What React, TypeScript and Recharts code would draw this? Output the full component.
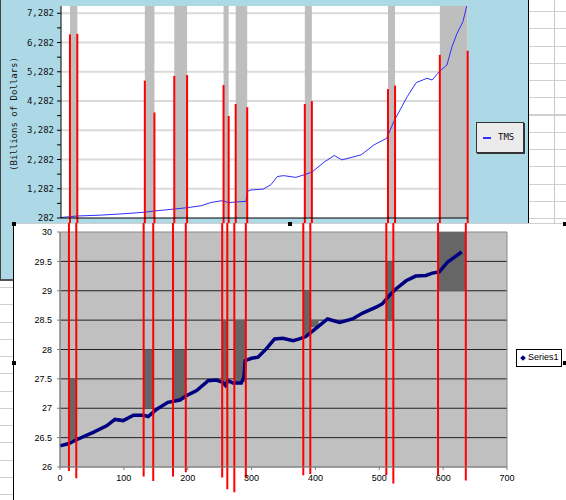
import type { FC } from "react"
import { LineChart, Line, XAxis, YAxis, CartesianGrid, ReferenceArea, ReferenceLine } from "recharts"

// month index (x) and TMS level in billions
const tmsMonth = [0, 25, 62, 100, 131, 145, 178, 197, 219, 234, 250, 255, 262, 273, 289, 291, 297, 316, 328, 338, 348, 367, 380, 392, 411, 427, 439, 469, 489, 509, 520, 541, 555, 572, 580, 591, 603, 611, 619, 628, 634]
const tmsValue = [300, 350, 380, 430, 480, 520, 590, 635, 700, 810, 870, 860, 805, 830, 850, 1190, 1240, 1270, 1420, 1700, 1730, 1670, 1760, 1850, 2190, 2420, 2270, 2440, 2780, 3010, 3580, 4430, 4910, 5060, 5000, 5285, 5510, 6140, 6600, 6990, 7530]

// same months on the lower (log) chart
const logMonth = [0, 14, 25, 52, 73, 86, 99, 115, 131, 138, 151, 169, 188, 197, 214, 232, 245, 255, 259, 263, 271, 284, 288, 290, 300, 310, 323, 336, 349, 365, 375, 385, 393, 409, 419, 438, 458, 474, 495, 505, 516, 526, 542, 557, 573, 583, 594, 607, 620, 629]
const logValue = [26.36, 26.4, 26.46, 26.59, 26.7, 26.81, 26.79, 26.88, 26.88, 26.86, 26.98, 27.1, 27.14, 27.21, 27.3, 27.47, 27.48, 27.44, 27.39, 27.47, 27.43, 27.43, 27.53, 27.81, 27.85, 27.87, 28.01, 28.18, 28.19, 28.15, 28.18, 28.22, 28.29, 28.43, 28.52, 28.46, 28.52, 28.62, 28.72, 28.78, 28.92, 29.03, 29.17, 29.25, 29.26, 29.3, 29.32, 29.49, 29.59, 29.66]

// recession start/end months (red markers)
const edgeX = [14, 25.5, 131, 146, 177, 197, 254, 262, 273, 291, 381, 392, 511, 522, 592, 635.5]
// how far up the TMS chart each red marker reaches (billions)
const edgeTop = [6560, 6580, 4980, 3890, 5140, 5170, 4830, 3770, 4180, 4070, 4180, 4280, 4690, 4810, 5860, 6000]
// where each red marker stops below the log chart
const edgeBottom = [25.93, 25.81, 25.84, 25.76, 25.84, 25.91, 25.82, 25.62, 25.57, 25.81, 25.86, 25.88, 25.86, 25.72, 25.86, 25.77]

// grey recession bands on the TMS chart
const bandX1 = [14, 131, 177, 254, 273, 381, 511, 592]
const bandX2 = [25.5, 146, 197, 262, 291, 392, 522, 635.5]

// dark boxes on the log chart
const boxX1 = [14, 131, 177, 254, 273, 381, 392, 511, 592]
const boxX2 = [25.5, 146, 197, 262, 291, 392, 405, 522, 635.5]
const boxLow = [26.45, 27, 27.15, 27.45, 27.45, 28.25, 28.38, 28.5, 29]
const boxHigh = [27.5, 28, 28, 28.5, 28.5, 29, 28.5, 29.5, 30]

const tmsTicks = [282, 782, 1282, 1782, 2282, 2782, 3282, 3782, 4282, 4782, 5282, 5782, 6282, 6782, 7282]
const tmsMajor = [1282, 2282, 3282, 4282, 5282, 6282, 7282]
const yearTicks = Array.from({ length: 53 }, (_, i) => (i + 1) * 12)
const logTicks = [26, 26.5, 27, 27.5, 28, 28.5, 29, 29.5, 30]
const logGrid = [26.5, 27, 27.5, 28, 28.5, 29, 29.5]
const monthTicks = [0, 100, 200, 300, 400, 500, 600, 700]

const tmsData = tmsMonth.map((m, i) => ({ m, v: tmsValue[i] }))
const logData = logMonth.map((m, i) => ({ m, v: logValue[i] }))

const MONO = "'DejaVu Sans Mono', monospace"
const ARIAL = "'Liberation Sans', Arial, sans-serif"

// eslint-disable-next-line @typescript-eslint/no-explicit-any
const TmsTick: FC<any> = ({ x, y, payload }) =>
  (payload.value - 282) % 1000 === 0 ? (
    <text x={x} y={y} dy={3} textAnchor="end" fontFamily={MONO} fontSize={9} fill="#111">
      {payload.value.toLocaleString("en-US")}
    </text>
  ) : (
    <g />
  )

const handle = (left: number, top: number) => (
  <div key={`${left}-${top}`} style={{ position: "absolute", left, top, width: 4, height: 4, background: "#000" }} />
)

const App: FC = () => {
  return (
    <div
      style={{
        position: "absolute",
        left: 0,
        top: 0,
        width: 566,
        height: 500,
        overflow: "hidden",
        backgroundColor: "#fff",
        backgroundImage: "repeating-linear-gradient(to bottom, transparent 0px, transparent 16px, #d0d0d0 16px, #d0d0d0 17.25px)",
        backgroundPosition: "0 -5px",
        fontFamily: ARIAL,
      }}
    >
      <div style={{ position: "absolute", left: 554, top: 0, width: 1, height: 500, background: "#c8c8c8" }} />

      {/* upper chart panel */}
      <div
        style={{
          position: "absolute",
          left: 0,
          top: 0,
          width: 527,
          height: 279,
          background: "#add8e6",
          borderLeft: "1px solid #444",
          borderRight: "1px solid #000",
          borderBottom: "2px solid #555",
        }}
      >
        {/* the mirrored x axis takes no room, so the bottom margin sets the plot bottom at y=218 */}
        <LineChart width={527} height={228} margin={{ top: 6, right: 60, bottom: 10, left: 10 }}>
          <CartesianGrid fill="#fff" fillOpacity={1} vertical={false} horizontalValues={tmsMajor} stroke="#dadada" strokeWidth={2} />
          <XAxis
            type="number"
            dataKey="m"
            domain={[0, 636]}
            ticks={yearTicks}
            interval={0}
            tick={false}
            mirror
            height={4}
            tickSize={4}
            stroke="#000"
            allowDataOverflow
          />
          <YAxis
            type="number"
            domain={[282, 7531]}
            ticks={tmsTicks}
            interval={0}
            tick={(p) => <TmsTick {...p} />}
            tickSize={4}
            tickMargin={3}
            width={50}
            stroke="#000"
            allowDataOverflow
          />
          {bandX1.map((x1, i) => (
            <ReferenceArea key={`band-${i}`} x1={x1} x2={bandX2[i]} fill="#bebebe" fillOpacity={1} stroke="none" />
          ))}
          <Line data={tmsData} dataKey="v" stroke="#2f2fff" strokeWidth={1} dot={false} isAnimationActive={false} />
          {edgeX.map((x, i) => (
            <ReferenceLine
              key={`top-red-${i}`}
              segment={[
                { x, y: edgeTop[i] },
                { x, y: 0 },
              ]}
              stroke="#ff0000"
              strokeWidth={2}
              ifOverflow="visible"
            />
          ))}
        </LineChart>
        <div
          style={{
            position: "absolute",
            left: -47,
            top: 109,
            width: 120,
            transform: "rotate(-90deg)",
            textAlign: "center",
            fontFamily: MONO,
            fontSize: 9,
            color: "#111",
            whiteSpace: "nowrap",
          }}
        >
          (Billions of Dollars)
        </div>
        <div
          style={{
            position: "absolute",
            left: 475,
            top: 122,
            width: 46,
            height: 29,
            background: "#ebebeb",
            border: "1px solid #333",
            boxShadow: "1px 1px 0 #333",
          }}
        >
          <div style={{ position: "absolute", left: 6, top: 14, width: 8, height: 2, background: "#2f2fff" }} />
          <div style={{ position: "absolute", left: 21, top: 9, fontFamily: MONO, fontSize: 9, color: "#111" }}>TMS</div>
        </div>
      </div>

      {/* lower chart */}
      <div
        style={{
          position: "absolute",
          left: 13,
          top: 223,
          width: 553,
          height: 277,
          background: "#fff",
          borderLeft: "1px solid #000",
          borderTop: "1px solid #cfcfcf",
          boxSizing: "border-box",
        }}
      >
        <LineChart width={552} height={276} margin={{ top: 9, right: 58, bottom: 0, left: 0 }} style={{ position: "absolute", left: -1, top: -1 }}>
          <CartesianGrid fill="#c0c0c0" fillOpacity={1} vertical={false} horizontalValues={logGrid} stroke="#222" />
          <XAxis
            type="number"
            dataKey="m"
            domain={[0, 700]}
            ticks={monthTicks}
            interval={0}
            height={32}
            tickSize={3}
            tickMargin={5}
            stroke="#808080"
            tick={{ fill: "#000", fontSize: 9, fontFamily: ARIAL }}
          />
          <YAxis
            type="number"
            domain={[26, 30]}
            ticks={logTicks}
            interval={0}
            width={47}
            tickSize={3}
            tickMargin={5}
            stroke="#808080"
            tick={{ fill: "#000", fontSize: 9, fontFamily: ARIAL }}
          />
          <ReferenceArea x1={0} x2={700} y1={26} y2={30} fill="none" stroke="#8a8a8a" />
          {boxX1.map((x1, i) => (
            <ReferenceArea key={`box-${i}`} x1={x1} x2={boxX2[i]} y1={boxLow[i]} y2={boxHigh[i]} fill="#666" fillOpacity={1} stroke="none" />
          ))}
          <Line data={logData} dataKey="v" stroke="#000080" strokeWidth={3.5} dot={false} isAnimationActive={false} />
          {edgeX.map((x, i) => (
            <ReferenceLine
              key={`bot-red-${i}`}
              segment={[
                { x, y: 30.3 },
                { x, y: edgeBottom[i] },
              ]}
              stroke="#ff0000"
              strokeWidth={2}
              ifOverflow="visible"
            />
          ))}
        </LineChart>
        <div
          style={{
            position: "absolute",
            left: 502,
            top: 125,
            width: 44,
            height: 16,
            background: "#fff",
            border: "1px solid #000",
            fontSize: 9,
            color: "#000",
          }}
        >
          <div style={{ position: "absolute", left: 4, top: 6, width: 4, height: 4, background: "#000080", transform: "rotate(45deg)" }} />
          <div style={{ position: "absolute", left: 11, top: 2 }}>Series1</div>
        </div>
      </div>

      {[handle(12, 222), handle(288, 222), handle(563, 222), handle(12, 361), handle(563, 361)]}
    </div>
  )
}

export default App
